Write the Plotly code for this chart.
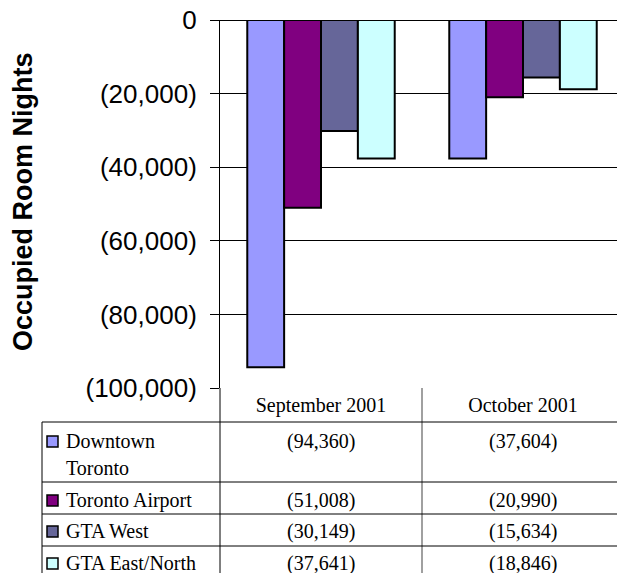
import plotly.graph_objects as go

# Monthly change in occupied room nights by Toronto-area market, 2001
months = ["September 2001", "October 2001"]
regions = ["Downtown Toronto", "Toronto Airport", "GTA West", "GTA East/North"]
downtown = [-94360, -37604]
airport = [-51008, -20990]
gta_west = [-30149, -15634]
gta_east = [-37641, -18846]
series = [downtown, airport, gta_west, gta_east]
colors = ["#9999FF", "#800080", "#666699", "#CCFFFF"]

y_ticks = [0, -20000, -40000, -60000, -80000, -100000]
y_tick_text = ["0", "(20,000)", "(40,000)", "(60,000)", "(80,000)", "(100,000)"]

W, H = 617, 573
L, R, T, B = 220, 0, 20, 185
PW, PH = W - L - R, H - T - B
CAT_W = 202  # pixel width of one category slot


def px(x):
    return (x - L) / PW


def py(y):
    return (H - B - y) / PH


def paren(v):
    return f"({abs(v):,})" if v < 0 else f"{v:,}"


fig = go.Figure()
for name, vals, col in zip(regions, series, colors):
    fig.add_trace(go.Bar(
        x=months, y=vals, name=name,
        marker=dict(color=col, line=dict(color="black", width=2)),
        showlegend=False,
    ))

sans = "Liberation Sans, Arial, sans-serif"
serif = "Liberation Serif, Times New Roman, serif"

shapes = []
annotations = []

# y-axis title
annotations.append(dict(
    text="<b>Occupied Room Nights</b>", textangle=-90,
    xref="paper", yref="paper", x=px(23), y=py(202),
    xanchor="center", yanchor="middle", showarrow=False,
    font=dict(family=sans, size=27, color="black"),
))

# data table grid
line = dict(color="black", width=1)
shapes.append(dict(type="line", xref="paper", yref="paper",
                   x0=0, x1=0, y0=py(388), y1=py(H), line=line))
shapes.append(dict(type="line", xref="x", yref="paper",
                   x0=0.5, x1=0.5, y0=py(388), y1=py(H),
                   line=dict(color="#808080", width=1.5)))
shapes.append(dict(type="line", xref="paper", yref="paper",
                   x0=px(42), x1=px(42), y0=py(422), y1=py(H), line=line))
for yy in [422, 482, 514, 546]:
    shapes.append(dict(type="line", xref="paper", yref="paper",
                       x0=px(42), x1=1, y0=py(yy), y1=py(yy), line=line))

# table rows: legend key, row label, values
row_first_line = [441, 500, 531, 563]
label_lines = [["Downtown", "Toronto"], ["Toronto Airport"], ["GTA West"], ["GTA East/North"]]
for i, (name, vals, col) in enumerate(zip(regions, series, colors)):
    yc = row_first_line[i]
    shapes.append(dict(type="rect", xref="paper", yref="paper",
                       x0=px(47), x1=px(58), y0=py(yc - 5), y1=py(yc + 6),
                       fillcolor=col, line=dict(color="black", width=1.5)))
    for j, part in enumerate(label_lines[i]):
        annotations.append(dict(
            text=part, xref="paper", yref="paper",
            x=px(64), y=py(yc + 27 * j), xanchor="left", yanchor="middle",
            showarrow=False, font=dict(family=serif, size=20, color="black"),
        ))
    for m, v in zip(months, vals):
        annotations.append(dict(
            text=paren(v), xref="x", yref="paper",
            x=m, y=py(yc), xanchor="center", yanchor="middle",
            showarrow=False, font=dict(family=serif, size=20, color="black"),
        ))

fig.update_layout(
    width=W, height=H,
    margin=dict(l=L, r=R, t=T, b=B, pad=0),
    paper_bgcolor="white", plot_bgcolor="white",
    barmode="group", bargap=0.27, bargroupgap=0,
    shapes=shapes, annotations=annotations,
    xaxis=dict(
        type="category", range=[-0.5, -0.5 + PW / CAT_W],
        showgrid=False, zeroline=False, showline=False, ticks="",
        tickfont=dict(family=serif, size=20, color="black"),
        ticklabelstandoff=3,
    ),
    yaxis=dict(
        range=[-100000, 0], tickvals=y_ticks, ticktext=y_tick_text,
        showgrid=True, gridcolor="black", gridwidth=1,
        zeroline=True, zerolinecolor="black", zerolinewidth=1,
        showline=True, linecolor="black", linewidth=1,
        ticks="outside", ticklen=9, tickcolor="black", tickwidth=1,
        ticklabelstandoff=8,
        tickfont=dict(family=sans, size=26, color="black"),
    ),
)

fig.write_html("out.html")
